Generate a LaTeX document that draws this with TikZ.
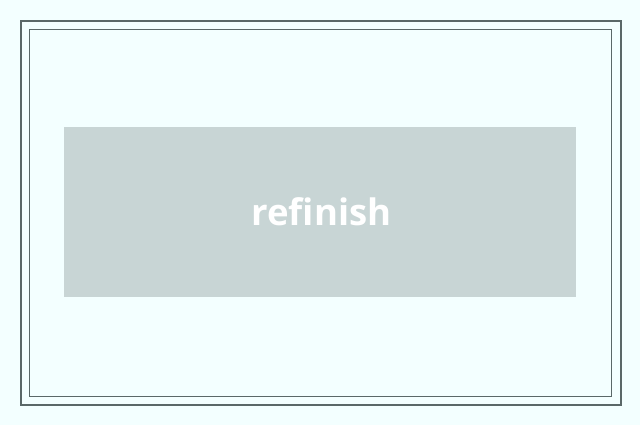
\documentclass[tikz,border=0pt]{standalone}
\usepackage{fontspec}
\setsansfont{Open Sans}
\definecolor{bgcyan}{HTML}{F3FFFF}
\definecolor{framegray}{HTML}{5A6868}
\definecolor{boxgray}{HTML}{C8D5D5}
\tikzset{
  wordbox/.style={fill=boxgray,draw=none,minimum width=512pt,minimum height=170pt,inner sep=0pt,
    text=white,font=\sffamily\bfseries\fontsize{36.5}{42}\selectfont}
}
\begin{document}
\begin{tikzpicture}[x=1pt,y=-1pt]
			\useasboundingbox[fill=bgcyan] (0,0) rectangle (640,425);
			\draw[framegray,line width=2.6pt] (21,21) rectangle (621,405);
			\draw[framegray,line width=1pt] (29.5,29.5) rectangle (611.5,396.5);
			\node[wordbox] (word) at (320,212) {\hspace*{3pt}refinish};
		      \end{tikzpicture}
\end{document}
